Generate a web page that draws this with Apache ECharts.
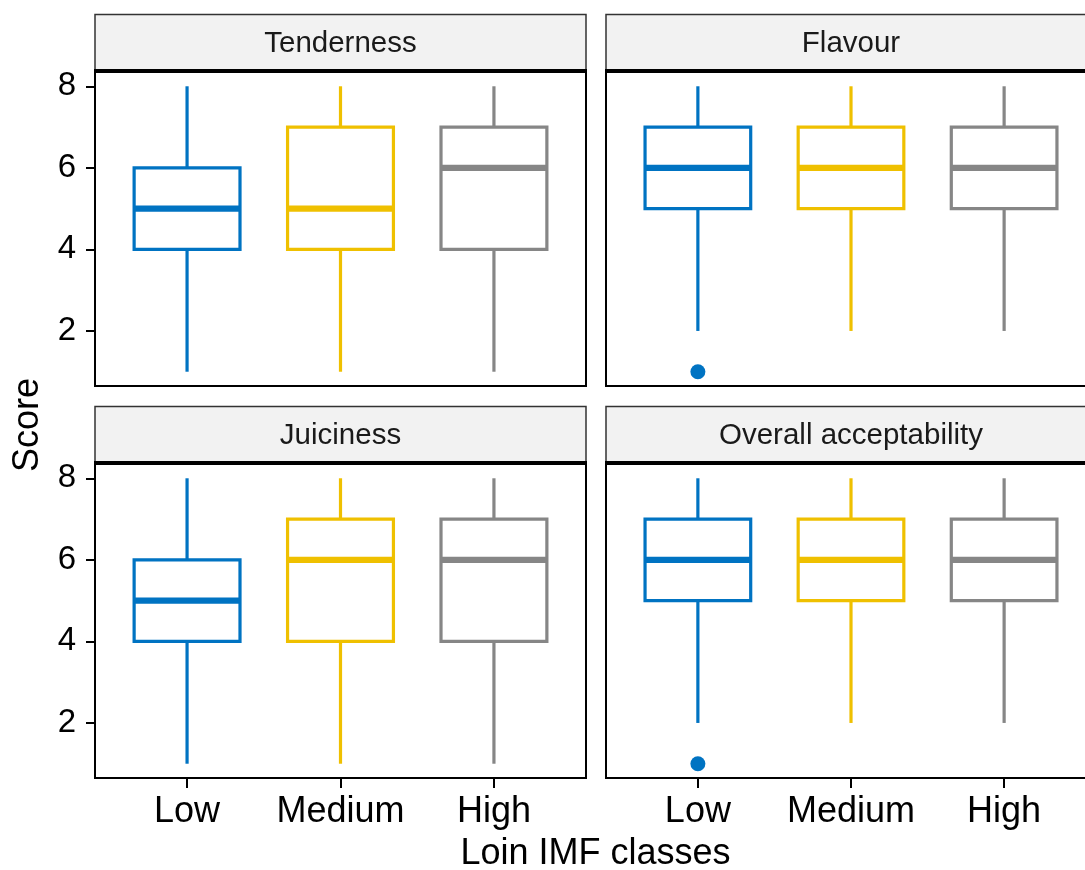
<!DOCTYPE html>
<html>
<head>
<meta charset="utf-8">
<script src="https://cdn.jsdelivr.net/npm/echarts@6/dist/echarts.min.js"></script>
<style>
  html, body { margin: 0; padding: 0; background: #fff; }
  #chart { width: 1085px; height: 870px; }
</style>
</head>
<body>
<div id="chart"></div>
<script>
// IMF classes on the x axis and the four sensory traits (one facet each)
const classes = ['Low', 'Medium', 'High'];
const traits = ['Tenderness', 'Flavour', 'Juiciness', 'Overall acceptability'];
const classColors = ['#0073C2', '#EFC000', '#868686'];

// Box statistics per class: [lower whisker, Q1, median, Q3, upper whisker]
const tenderness = [[1, 4, 5, 6, 8], [1, 4, 5, 7, 8], [1, 4, 6, 7, 8]];
const flavour    = [[2, 5, 6, 7, 8], [2, 5, 6, 7, 8], [2, 5, 6, 7, 8]];
const juiciness  = [[1, 4, 5, 6, 8], [1, 4, 6, 7, 8], [1, 4, 6, 7, 8]];
const overall    = [[2, 5, 6, 7, 8], [2, 5, 6, 7, 8], [2, 5, 6, 7, 8]];

// Outlying scores: [class, score]
const tendernessOutliers = [];
const flavourOutliers    = [['Low', 1]];
const juicinessOutliers  = [];
const overallOutliers    = [['Low', 1]];

const yTicks = [2, 4, 6, 8];

const stats = [tenderness, flavour, juiciness, overall];
const outliers = [tendernessOutliers, flavourOutliers, juicinessOutliers, overallOutliers];

// Facet layout
const FONT = '"Liberation Sans", Arial, Helvetica, sans-serif';
const colLeft = [95, 606];
const colWidth = [491, 490];
const rowTop = [72, 464];
const plotHeight = 314;
const stripHeight = 57.5;

const panels = traits.map((t, i) => ({
  trait: t,
  col: i % 2,
  row: Math.floor(i / 2),
  left: colLeft[i % 2],
  top: rowTop[Math.floor(i / 2)],
  width: colWidth[i % 2],
  height: plotHeight
}));

const grids = panels.map(p => ({
  left: p.left, top: p.top, width: p.width, height: p.height,
  show: true, borderColor: '#000', borderWidth: 2, backgroundColor: 'transparent',
  containLabel: false, outerBoundsMode: 'none'
}));

const xAxes = panels.map((p, i) => ({
  type: 'value', gridIndex: i, min: 0.4, max: 3.6,
  splitLine: { show: false },
  axisLine: { show: false },
  axisTick: {
    show: p.row === 1, length: 10, customValues: [1, 2, 3],
    lineStyle: { color: '#000', width: 2 }
  },
  axisLabel: {
    show: p.row === 1, customValues: [1, 2, 3], margin: 16,
    formatter: v => classes[Math.round(v) - 1] || '',
    fontFamily: FONT, fontSize: 36, color: '#000'
  }
}));

const yAxes = panels.map((p, i) => ({
  type: 'value', gridIndex: i, min: 0.65, max: 8.35,
  splitLine: { show: false },
  axisLine: { show: false },
  axisTick: {
    show: p.col === 0, length: 9, customValues: yTicks,
    lineStyle: { color: '#000', width: 2 }
  },
  axisLabel: {
    show: p.col === 0, customValues: yTicks, margin: 19,
    fontFamily: FONT, fontSize: 33, color: '#000'
  }
}));

const BOX_WIDTH = 0.69;

function renderBox(params, api) {
  const x = api.value(0);
  const lo = api.coord([x, api.value(1)]);
  const q1 = api.coord([x, api.value(2)]);
  const med = api.coord([x, api.value(3)]);
  const q3 = api.coord([x, api.value(4)]);
  const hi = api.coord([x, api.value(5)]);
  const half = api.size([BOX_WIDTH, 0])[0] / 2;
  const color = classColors[api.value(6)];
  const cx = lo[0];
  return {
    type: 'group',
    children: [
      { type: 'line', shape: { x1: cx, y1: lo[1], x2: cx, y2: q1[1] },
        style: { stroke: color, lineWidth: 3.2 } },
      { type: 'line', shape: { x1: cx, y1: q3[1], x2: cx, y2: hi[1] },
        style: { stroke: color, lineWidth: 3.2 } },
      { type: 'rect', shape: { x: cx - half, y: q3[1], width: 2 * half, height: q1[1] - q3[1] },
        style: { fill: '#fff', stroke: color, lineWidth: 3.2 } },
      { type: 'line', shape: { x1: cx - half, y1: med[1], x2: cx + half, y2: med[1] },
        style: { stroke: color, lineWidth: 6.4 } }
    ]
  };
}

const series = [];
panels.forEach((p, i) => {
  series.push({
    type: 'custom',
    xAxisIndex: i, yAxisIndex: i,
    renderItem: renderBox,
    encode: { x: 0, y: [1, 2, 3, 4, 5] },
    data: stats[i].map((s, k) => [k + 1].concat(s, [k])),
    silent: true
  });
  if (outliers[i].length) {
    series.push({
      type: 'scatter',
      xAxisIndex: i, yAxisIndex: i,
      symbol: 'circle', symbolSize: 15,
      itemStyle: { color: classColors[0], opacity: 1 },
      data: outliers[i].map(o => [classes.indexOf(o[0]) + 1, o[1]]),
      silent: true
    });
  }
});

// Facet strips and shared axis titles
const graphics = [];
panels.forEach(p => {
  graphics.push({
    type: 'rect', z: 10,
    shape: { x: p.left, y: p.top - stripHeight, width: p.width, height: stripHeight },
    style: { fill: '#F2F2F2', stroke: '#333', lineWidth: 1.5 }
  });
  graphics.push({
    type: 'line', z: 11,
    shape: { x1: p.left - 1, y1: p.top - 1, x2: p.left + p.width + 1, y2: p.top - 1 },
    style: { stroke: '#000', lineWidth: 4 }
  });
  graphics.push({
    type: 'text', z: 12,
    x: p.left + p.width / 2, y: p.top - stripHeight / 2 + 1,
    style: {
      text: p.trait, fill: '#1A1A1A', font: '29.5px ' + FONT,
      textAlign: 'center', textVerticalAlign: 'middle'
    }
  });
});
graphics.push({
  type: 'text', z: 12,
  x: (colLeft[0] + colLeft[1] + colWidth[1]) / 2, y: 854,
  style: {
    text: 'Loin IMF classes', fill: '#000', font: '36px ' + FONT,
    textAlign: 'center', textVerticalAlign: 'middle'
  }
});
graphics.push({
  type: 'text', z: 12,
  x: 28, y: 425, rotation: Math.PI / 2,
  style: {
    text: 'Score', fill: '#000', font: '36px ' + FONT,
    textAlign: 'center', textVerticalAlign: 'middle'
  }
});

const chart = echarts.init(document.getElementById('chart'), null, { renderer: 'canvas' });
chart.setOption({
  animation: false,
  backgroundColor: '#fff',
  grid: grids,
  xAxis: xAxes,
  yAxis: yAxes,
  series: series,
  graphic: graphics
});
</script>
</body>
</html>
